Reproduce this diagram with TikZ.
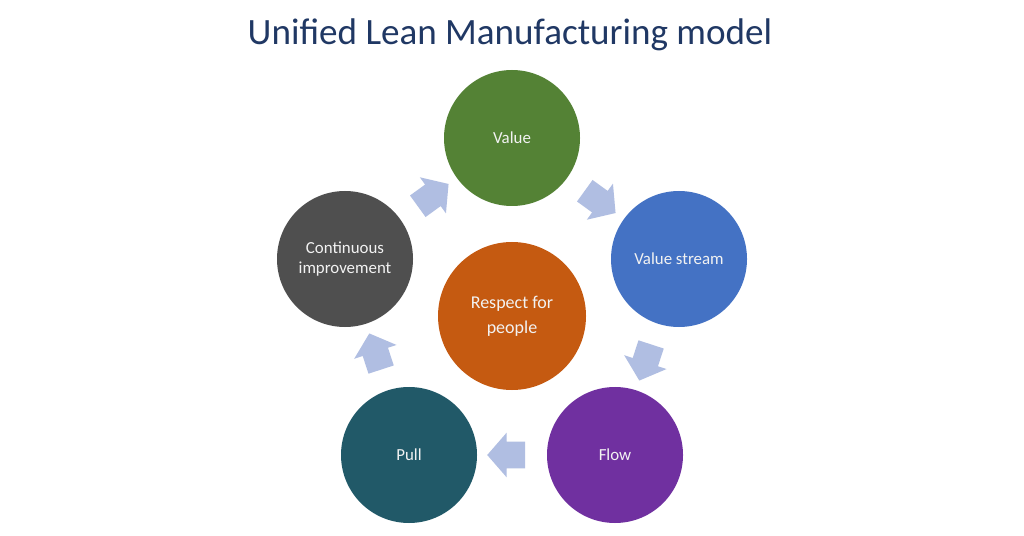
\documentclass[tikz,border=0pt]{standalone}
\usepackage{fontspec}
\setmainfont{Carlito}
\usetikzlibrary{shapes.arrows}
\definecolor{titleblue}{HTML}{203864}
\definecolor{valgreen}{HTML}{548235}
\definecolor{streamblue}{HTML}{4472C4}
\definecolor{flowpurple}{HTML}{7030A0}
\definecolor{pullteal}{HTML}{215968}
\definecolor{kaizengrey}{HTML}{4F4F4F}
\definecolor{peopleorange}{HTML}{C55A11}
\definecolor{arrowblue}{HTML}{B0BEE2}
\tikzset{phase/.style={circle, minimum size=34mm, inner sep=0pt,
  text=white!95!black, align=center,
  font=\fontsize{12}{14.5}\selectfont}}
\tikzset{cyclearrow/.style={single arrow, fill=arrowblue, draw=none,
  inner xsep=0pt, inner ysep=3.25mm, minimum height=9.5mm,
  single arrow head extend=2.25mm, single arrow tip angle=98,
  sloped, allow upside down, midway}}

\begin{document}
\begin{tikzpicture}[x=0.25mm, y=-0.25mm]
      \fill [white] (0,0) rectangle (1024,536);
      \useasboundingbox (0,0) rectangle (1024,536);
      \node [anchor=base, text=titleblue, font=\fontsize{26.4}{30}\selectfont] (title) at (510,45) {Unified Lean Manufacturing model};
      % the five steps of the cycle
      \node [phase, fill=valgreen] (val) at (512,138) {Value};
      \node [phase, fill=streamblue] (vs) at (679,259) {Value stream};
      \node [phase, fill=flowpurple] (flow) at (615,455) {Flow};
      \node [phase, fill=pullteal] (pull) at (409,455) {Pull};
      \node [phase, fill=kaizengrey] (ci) at (345,259) {Continuous\\improvement};
      % centre
      \node [phase, fill=peopleorange, minimum size=37mm, font=\fontsize{12.8}{17.5}\selectfont] (resp) at (512,316) {Respect for\\people};
      % arrows between steps
      \path (val) -- node [cyclearrow] (a1) {} (vs);
      \path (vs) -- node [cyclearrow] (a2) {} (flow);
      \path (flow) -- node [cyclearrow] (a3) {} (pull);
      \path (pull) -- node [cyclearrow] (a4) {} (ci);
      \path (ci) -- node [cyclearrow] (a5) {} (val);
    \end{tikzpicture}
\end{document}
